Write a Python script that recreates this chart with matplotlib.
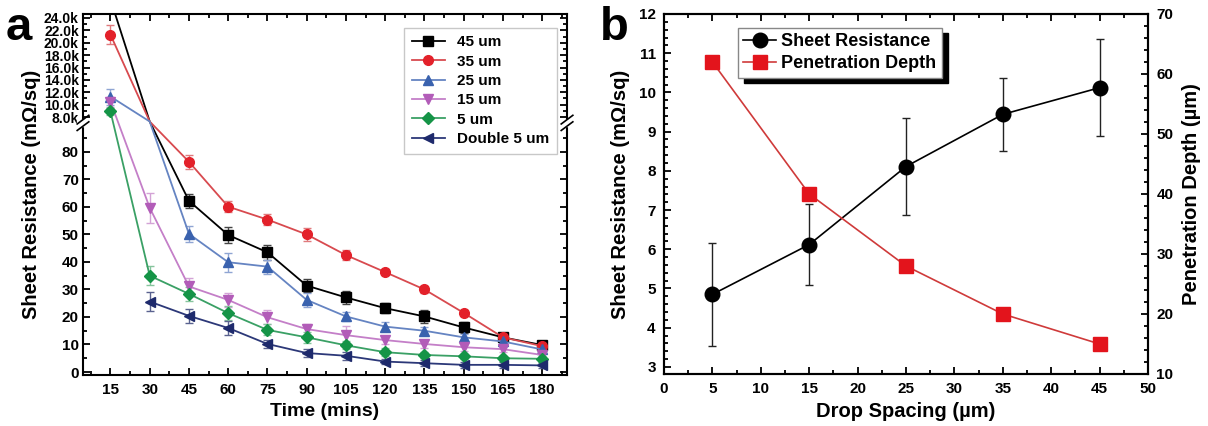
import numpy as np
import matplotlib.pyplot as plt
from matplotlib.ticker import FuncFormatter, MultipleLocator, FixedLocator

plt.rcParams['font.family'] = ['Liberation Sans', 'DejaVu Sans']
plt.rcParams['font.weight'] = 'bold'
plt.rcParams['axes.labelweight'] = 'bold'

# ---- panel a data ----
time = [15, 30, 45, 60, 75, 90, 105, 120, 135, 150, 165, 180]
nan = np.nan
r45 = [27000, 7000, 62.2, 49.8, 43.5, 31.4, 27.1, 23.2, 20.2, 16.2, 12.6, 9.8]
r35 = [21300, 7000, 76.4, 60.1, 55.4, 50.0, 42.5, 36.3, 30.0, 21.5, 12.6, 9.4]
r25 = [11300, 7000, 50.2, 39.9, 38.3, 26.2, 20.2, 16.5, 15.0, 12.6, 11.1, 8.2]
r15 = [10500, 59.7, 31.1, 26.2, 19.9, 15.6, 13.4, 11.6, 10.2, 9.0, 8.3, 6.2]
r5 = [8900, 35.0, 28.4, 21.4, 15.3, 12.6, 9.7, 7.2, 6.2, 5.7, 5.0, 4.8]
rd5 = [nan, 25.6, 20.4, 16.0, 10.2, 6.9, 5.9, 3.8, 3.2, 2.6, 2.6, 2.4]
e45 = [0, 0, 2.5, 2.8, 2.8, 2.5, 2.2, 1.8, 2.5, 2.0, 1.0, 1.0]
e35 = [1500, 0, 2.5, 2.0, 2.0, 2.5, 1.8, 1.2, 1.2, 1.2, 1.0, 1.0]
e25 = [1300, 0, 2.8, 3.5, 2.5, 2.5, 1.5, 1.5, 1.5, 1.2, 1.0, 1.0]
e15 = [800, 5.5, 3.2, 2.5, 2.5, 2.0, 3.5, 1.5, 1.5, 1.2, 1.0, 1.0]
e5 = [500, 3.5, 2.5, 2.5, 2.0, 2.0, 1.5, 1.5, 1.2, 1.0, 1.0, 1.0]
ed5 = [0, 3.5, 2.5, 2.5, 1.5, 1.5, 1.5, 1.0, 1.0, 1.0, 1.0, 1.0]
labels_a = ['45 um', '35 um', '25 um', '15 um', '5 um', 'Double 5 um']

# ---- panel b data ----
spacing = [5, 15, 25, 35, 45]
sheet_res = [4.85, 6.12, 8.11, 9.44, 10.12]
sheet_err = [1.31, 1.03, 1.24, 0.93, 1.23]
pen_depth = [62, 40, 28, 20, 15]

# broken axis: 0-90 linear, gap, 7.3k-24.65k compressed
lo_top, hi_bot, gap = 7300, 90, 1.09
k = 0.002251
xp = [-1e4, hi_bot, lo_top, 1e6]
fp = [-1e4, hi_bot, hi_bot + gap, hi_bot + gap + (1e6 - lo_top) * k]
fwd = lambda y: np.interp(y, xp, fp)
inv = lambda y: np.interp(y, fp, xp)

fig = plt.figure(figsize=(12.08, 4.26), dpi=100)
ax = fig.add_axes([0.0687, 0.1197, 0.4007, 0.8473])
ax.set_yscale('function', functions=(fwd, inv))
ax.set_ylim(-1.09, inv(130.1))
ax.set_xlim(4.5, 189.5)

series = [r45, r35, r25, r15, r5, rd5]
errs = [e45, e35, e25, e15, e5, ed5]
colors = ['#000000', '#e3212a', '#3a62ae', '#b25cb8', '#159447', '#1e2a6c']
lcolors = ['#000000', '#d84a4f', '#6584c2', '#c47fc8', '#3aa065', '#2c3878']
ecolors = ['#444444', '#e07a7d', '#8fa5d3', '#d3a3d6', '#86c49d', '#5a628f']
markers = ['s', 'o', '^', 'v', 'D', '<']
msizes = [6.5, 7, 7, 7, 6, 7]

for vals, err, c, lc, ec, m, ms, lab in zip(series, errs, colors, lcolors, ecolors,
                                            markers, msizes, labels_a):
    vals = np.array(vals, dtype=float)
    show = [i for i, v in enumerate(vals) if not np.isnan(v) and not (hi_bot < v < lo_top)]
    ax.errorbar(np.array(time)[show], vals[show], yerr=np.array(err)[show], fmt='none',
                ecolor=ec, elinewidth=1, capsize=3, capthick=1, zorder=2)
    ax.plot(time, vals, color=lc, lw=1.3, marker=m, ms=ms, mfc=c, mec=c,
            markevery=show, label=lab, zorder=3)

ax.yaxis.set_major_locator(FixedLocator(list(range(0, 90, 10)) + list(range(8000, 24001, 2000))))
ax.yaxis.set_minor_locator(FixedLocator(list(range(5, 90, 10)) + list(range(9000, 24001, 2000))))
ax.yaxis.set_major_formatter(FuncFormatter(lambda v, p: f"{v/1000:.1f}k" if v >= 1000 else f"{v:g}"))
ax.set_xticks(time)
ax.xaxis.set_minor_locator(MultipleLocator(7.5))
ax.tick_params(which='both', direction='in', top=True, right=True, width=1.3)
ax.tick_params(which='major', length=5, labelsize=11, pad=6)
ax.tick_params(which='minor', length=3)
for t in ax.get_yticklabels():
    v = t.get_position()[1]
    t.set_fontsize(10 if v >= 1000 else 11)
ax.tick_params(axis='y', pad=3)
for s in ax.spines.values():
    s.set_linewidth(1.5)

# break marks on both vertical spines
yb = (fwd(hi_bot) + gap / 2 + 1.09) / (130.1 + 1.09)
for xs in (0, 1):
    ax.add_patch(plt.Rectangle((xs - 0.012, yb - 0.008), 0.024, 0.016, transform=ax.transAxes,
                               color='white', clip_on=False, zorder=5))
    for dy in (-0.009, 0.009):
        ax.plot([xs - 0.012, xs + 0.012], [yb + dy - 0.012, yb + dy + 0.012], color='k',
                lw=1.2, transform=ax.transAxes, clip_on=False, zorder=6)

leg = ax.legend(loc='upper right', bbox_to_anchor=(0.98, 0.962), borderaxespad=0,
                fontsize=11, frameon=True, fancybox=False, edgecolor='#bbbbbb',
                handlelength=2.2, labelspacing=0.35, borderpad=0.5)
leg.get_frame().set_linewidth(1)
ax.set_xlabel('Time (mins)', fontsize=14, labelpad=4)
ax.set_ylabel('Sheet Resistance (mΩ/sq)', fontsize=14.5, labelpad=2)
fig.text(0.005, 0.985, 'a', fontsize=34, fontweight='bold', va='top', ha='left')

# ---- panel b ----
bx = fig.add_axes([0.5497, 0.1221, 0.4006, 0.8451])
bx.errorbar(spacing, sheet_res, yerr=sheet_err, fmt='none', ecolor='#222222',
            elinewidth=1, capsize=3, capthick=1, zorder=2)
h1, = bx.plot(spacing, sheet_res, color='k', lw=1.2, marker='o', ms=10.5,
              label='Sheet Resistance', zorder=3)
bx.set_xlim(0, 50)
bx.set_ylim(2.82, 12)
bx.xaxis.set_major_locator(MultipleLocator(5))
bx.xaxis.set_minor_locator(MultipleLocator(2.5))
bx.yaxis.set_major_locator(MultipleLocator(1))
bx.yaxis.set_minor_locator(MultipleLocator(0.2))
bx.tick_params(which='both', direction='in', top=True, width=1.3)
bx.tick_params(which='major', length=5, labelsize=11, pad=6)
bx.tick_params(which='minor', length=3)
bx.set_xlabel('Drop Spacing (µm)', fontsize=14.5, labelpad=4)
bx.set_ylabel('Sheet Resistance (mΩ/sq)', fontsize=14.5, labelpad=6)

bx2 = bx.twinx()
h2, = bx2.plot(spacing, pen_depth, color='#cf3a3a', lw=1.2, marker='s', ms=9.5,
               mfc='#e3141c', mec='#e3141c', label='Penetration Depth', zorder=3)
bx2.set_ylim(10, 70)
bx2.yaxis.set_major_locator(MultipleLocator(10))
bx2.yaxis.set_minor_locator(MultipleLocator(2))
bx2.tick_params(which='both', direction='in', width=1.3)
bx2.tick_params(which='major', length=5, labelsize=11, pad=6)
bx2.tick_params(which='minor', length=3)
bx2.set_ylabel('Penetration Depth (µm)', fontsize=14.5, labelpad=6)
for s in list(bx.spines.values()) + list(bx2.spines.values()):
    s.set_linewidth(1.5)

leg2 = bx2.legend(handles=[h1, h2], loc='upper left', bbox_to_anchor=(0.153, 0.962),
                  borderaxespad=0, fontsize=13, frameon=True, fancybox=False,
                  edgecolor='#888888', handlelength=1.8, handletextpad=0.3,
                  labelspacing=0.3, borderpad=0.3,
                  shadow={'color': 'black', 'alpha': 1, 'ox': 4, 'oy': -4})
leg2.get_frame().set_linewidth(1)
fig.text(0.497, 0.985, 'b', fontsize=34, fontweight='bold', va='top', ha='left')

fig.savefig('out.png', dpi=100)
